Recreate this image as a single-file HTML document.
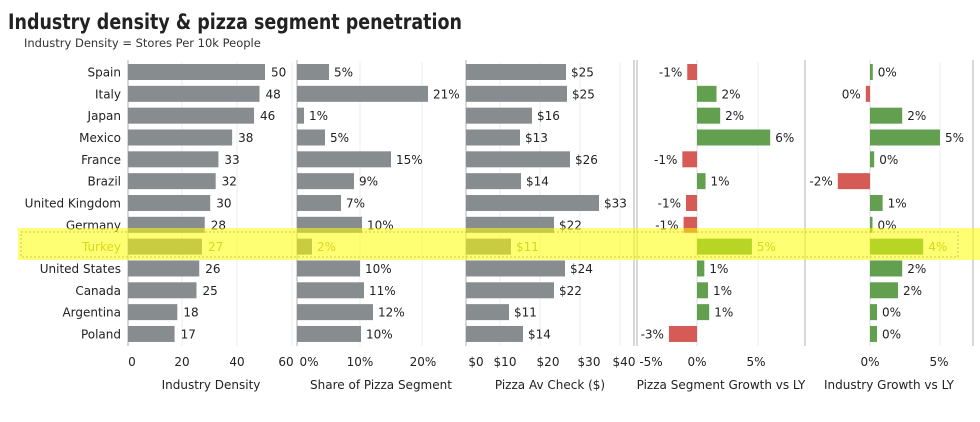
<!DOCTYPE html>
<html><head><meta charset="utf-8"><style>
body{margin:0;background:#fff;width:980px;height:418px;overflow:hidden;font-family:"DejaVu Sans","Liberation Sans",sans-serif}
</style></head><body>
<svg id="s" width="980" height="418" xmlns="http://www.w3.org/2000/svg" font-family="DejaVu Sans, Liberation Sans, sans-serif"></svg>
<script>
const C=["Spain","Italy","Japan","Mexico","France","Brazil","United Kingdom","Germany","Turkey","United States","Canada","Argentina","Poland"];
const dens=[50,48,46,38,33,32,30,28,27,26,25,18,17];
const shareEnd=[329,428,304,325,391,354,341,362,312,360,364,373,361];
const shareL=["5%","21%","1%","5%","15%","9%","7%","10%","2%","10%","11%","12%","10%"];
const chkEnd=[566,567,532,520,570,521,599,554,511,565,554,509,523];
const chkL=["$25","$25","$16","$13","$26","$14","$33","$22","$11","$24","$22","$11","$14"];
const pg=[-0.8,1.6,1.9,6,-1.2,0.7,-0.9,-1.1,4.5,0.6,0.9,1.0,-2.3];
const pgL=["-1%","2%","2%","6%","-1%","1%","-1%","-1%","5%","1%","1%","1%","-3%"];
const ig=[0.2,-0.3,2.3,5.0,0.3,-2.3,0.9,0.15,3.8,2.3,2.0,0.5,0.5];
const igL=["0%","0%","2%","5%","0%","-2%","1%","0%","4%","2%","2%","0%","0%"];
let h='';
const T=(x,y,t,o={})=>`<text x="${x}" y="${y}" font-size="${o.s||12}" fill="${o.f||'#222'}" text-anchor="${o.a||'start'}" font-weight="${o.w||'normal'}"${o.L?` textLength="${o.L}" lengthAdjust="spacingAndGlyphs"`:''}>${t}</text>`;
h+=T(8,29,"Industry density &amp; pizza segment penetration",{s:21,w:'bold',f:'#222',L:454});
h+=T(24,47,"Industry Density = Stores Per 10k People",{s:11.5,f:'#333'});
const grid=[182,237,292,360,422,500,540,580,620,758,940];
grid.forEach(x=>h+=`<line x1="${x}" y1="62" x2="${x}" y2="346" stroke="#eee"/>`);
[128,297,466,634,637,697,805,870,973].forEach(x=>h+=`<line x1="${x}" y1="60" x2="${x}" y2="346" stroke="${(x==697||x==870)?'#ddd':'#ccc'}" stroke-width="${x==697||x==870?1:1.5}"/>`);
const GR='#878c8f',GN='#62a050',RD='#d65a55';
const yc=i=>72+i*21.83;
C.forEach((c,i)=>{
 const y=yc(i),tk=i==8,tc=tk?'#a8a83a':'#222';
 h+=T(121,y+4.5,c,{a:'end',f:tc});
 let e=128+dens[i]*2.74;
 h+=`<rect x="128" y="${y-8}" width="${e-128}" height="16" fill="${GR}"/>`+T(e+6,y+4.5,dens[i],{f:tc});
 h+=`<rect x="297" y="${y-8}" width="${shareEnd[i]-297}" height="16" fill="${GR}"/>`+T(shareEnd[i]+5,y+4.5,shareL[i],{f:tc});
 h+=`<rect x="466" y="${y-8}" width="${chkEnd[i]-466}" height="16" fill="${GR}"/>`+T(chkEnd[i]+5,y+4.5,chkL[i],{f:tc});
 let w=pg[i]*12.2;
 h+=`<rect x="${Math.min(697,697+w)}" y="${y-8}" width="${Math.abs(w)}" height="16" fill="${w<0?RD:GN}"/>`+(w<0?T(697+w-5,y+4.5,pgL[i],{a:'end',f:tc}):T(697+w+5,y+4.5,pgL[i],{f:tc}));
 w=ig[i]*14;
 h+=`<rect x="${Math.min(870,870+w)}" y="${y-8}" width="${Math.max(Math.abs(w),2.5)}" height="16" fill="${w<0?RD:GN}"/>`+(w<0?T(870+w-5,y+4.5,igL[i],{a:'end',f:tc}):T(870+Math.max(w,2.5)+5,y+4.5,igL[i],{f:tc}));
});
h+=`<rect x="18" y="228" width="962" height="32" fill="#ffff00" opacity="0.55"/>`;
h+=`<rect x="21" y="232" width="937" height="25" fill="none" stroke="#b8b860" stroke-dasharray="2,2" stroke-width="0.8"/>`;
[[132,"0"],[182,"20"],[237,"40"],[286,"60"],[309,"0%"],[360,"10%"],[423,"20%"],[476,"$0"],[505,"$10"],[548,"$20"],[589,"$30"],[624,"$40"],[651,"-5%"],[697,"0%"],[756,"5%"],[870,"0%"],[939,"5%"]].forEach(([x,t])=>h+=T(x,366,t,{a:'middle'}));
[[211,"Industry Density"],[381,"Share of Pizza Segment"],[550,"Pizza Av Check ($)"],[721,"Pizza Segment Growth vs LY"],[889,"Industry Growth vs LY"]].forEach(([x,t])=>h+=T(x,389,t,{a:'middle'}));
document.getElementById('s').innerHTML=h;
</script>
</body></html>
